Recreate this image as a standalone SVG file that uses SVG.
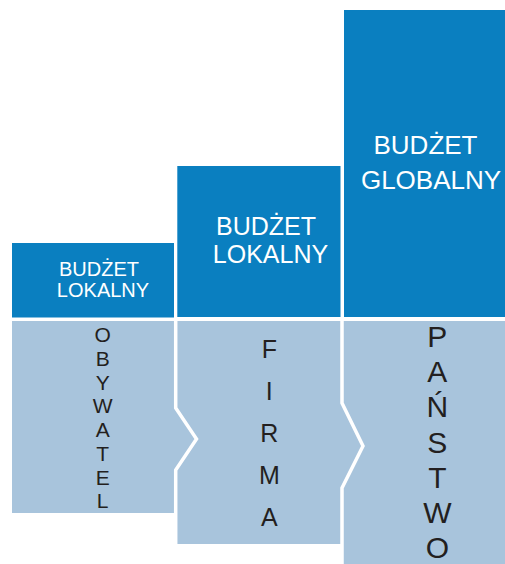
<svg xmlns="http://www.w3.org/2000/svg" width="505" height="564" viewBox="0 0 505 564">
<style>
.dark{fill:#0a7fc0}
.light{fill:#a8c4dc}
.hd{font-family:"Liberation Sans",Arial,sans-serif;fill:#ffffff;text-anchor:middle}
.vt{font-family:"Liberation Sans",Arial,sans-serif;fill:#231f20;text-anchor:middle}
.sep{fill:none;stroke:#ffffff;stroke-width:3.5;stroke-linejoin:miter}
</style>
<rect width="505" height="564" fill="#ffffff"/>
<g id="budzet-lokalny-1">
<rect class="dark" x="12" y="243" width="162" height="74.5"/>
<text class="hd" font-size="20"><tspan x="99" y="276">BUDŻET</tspan><tspan x="103" y="297">LOKALNY</tspan></text>
</g>
<g id="budzet-lokalny-2">
<rect class="dark" x="177.3" y="166" width="163.2" height="151"/>
<text class="hd" font-size="25"><tspan x="266" y="235">BUDŻET</tspan><tspan x="270.5" y="263">LOKALNY</tspan></text>
</g>
<g id="budzet-globalny">
<rect class="dark" x="344" y="10" width="161" height="307"/>
<text class="hd" font-size="26"><tspan x="425.5" y="154">BUDŻET</tspan><tspan x="431" y="189">GLOBALNY</tspan></text>
</g>
<g id="obywatel">
<polygon class="light" points="12,321 175.7,321 175.7,408 196.5,439 175.7,470 175.7,513 12,513"/>
<text class="vt" font-size="21"><tspan x="102.7" y="342">O</tspan><tspan x="102.7" y="365.7">B</tspan><tspan x="102.7" y="389.5">Y</tspan><tspan x="102.7" y="413.2">W</tspan><tspan x="102.7" y="437">A</tspan><tspan x="102.7" y="460.7">T</tspan><tspan x="102.7" y="484.5">E</tspan><tspan x="102.7" y="508.2">L</tspan></text>
</g>
<g id="firma">
<polygon class="light" points="175.7,321 342,321 342,403 363,446 342,488 342,544 175.7,544 175.7,470 196.5,439 175.7,408"/>
<text class="vt" font-size="25"><tspan x="269.3" y="357.5">F</tspan><tspan x="269.3" y="399.5">I</tspan><tspan x="269.3" y="441.5">R</tspan><tspan x="269.3" y="483.5">M</tspan><tspan x="269.3" y="525.5">A</tspan></text>
</g>
<g id="panstwo">
<polygon class="light" points="342,321 505,321 505,564 342,564 342,488 363,446 342,403"/>
<text class="vt" font-size="30"><tspan x="437.3" y="346.7">P</tspan><tspan x="437.3" y="382">A</tspan><tspan x="437.3" y="417.3">Ń</tspan><tspan x="437.3" y="452.6">S</tspan><tspan x="437.3" y="487.9">T</tspan><tspan x="437.3" y="523.2">W</tspan><tspan x="437.3" y="557.5">O</tspan></text>
</g>
<g id="connectors">
<polyline class="sep" points="175.7,321 175.7,408 196.5,439 175.7,470 175.7,546"/>
<polyline class="sep" points="342,321 342,403 363,446 342,488 342,566"/>
</g>
</svg>
